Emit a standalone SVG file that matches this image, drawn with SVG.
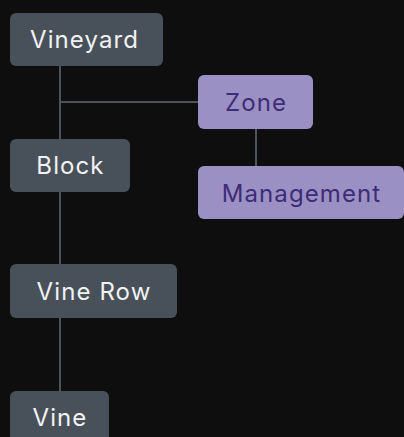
<svg xmlns="http://www.w3.org/2000/svg" width="404" height="437" viewBox="0 0 404 437">
  <style>
    .bg { fill: #0e0e0f; }
    .edge { stroke: #4b535c; stroke-width: 2; fill: none; }
    .n-gray rect { fill: #48515a; }
    .n-gray text { fill: #f2f2f2; }
    .n-purple rect { fill: #9b90c3; }
    .n-purple text { fill: #3d2c77; }
    text { font-family: Inter, "Noto Sans", "Liberation Sans", sans-serif; font-size: 24px; letter-spacing: 1.1px; text-anchor: middle; }
  </style>
  <rect class="bg" x="0" y="0" width="404" height="437"/>

  <g id="connectors">
    <line class="edge" x1="60" y1="66" x2="60" y2="139"/>
    <line class="edge" x1="60" y1="102" x2="198" y2="102"/>
    <line class="edge" x1="256" y1="129" x2="256" y2="166"/>
    <line class="edge" x1="60" y1="192" x2="60" y2="264"/>
    <line class="edge" x1="60" y1="318" x2="60" y2="391"/>
  </g>

  <g id="vineyard" class="n-gray">
    <rect x="10" y="13" width="153" height="53" rx="6"/>
    <text x="84.5" y="48">Vineyard</text>
  </g>
  <g id="zone" class="n-purple">
    <rect x="198" y="75" width="115" height="54" rx="6"/>
    <text x="256" y="110.5">Zone</text>
  </g>
  <g id="block" class="n-gray">
    <rect x="10" y="139" width="120" height="53" rx="6"/>
    <text x="70.5" y="174">Block</text>
  </g>
  <g id="management" class="n-purple">
    <rect x="198" y="166" width="206" height="53" rx="6"/>
    <text x="301.5" y="201.5">Management</text>
  </g>
  <g id="vine-row" class="n-gray">
    <rect x="10" y="264" width="167" height="54" rx="6"/>
    <text x="94" y="299.5">Vine Row</text>
  </g>
  <g id="vine" class="n-gray">
    <rect x="10" y="391" width="99" height="53" rx="6"/>
    <text x="60" y="426">Vine</text>
  </g>
</svg>
